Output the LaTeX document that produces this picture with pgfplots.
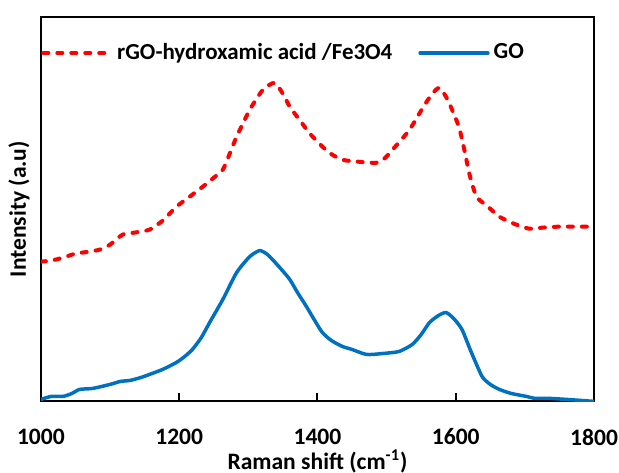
\documentclass[border=0pt]{standalone}
\usepackage{fontspec}
\setmainfont{Carlito}
\usepackage{pgfplots}
\pgfplotsset{compat=1.18}

\definecolor{gored}{HTML}{FF0000}
\definecolor{goblue}{HTML}{0070C0}

\begin{document}
\begin{tikzpicture}
\begin{axis}[
  scale only axis,
  width=277pt, height=192.5pt,
  xmin=1000, xmax=1800,
  ymin=0, ymax=385,
  xtick={1000,1200,...,1800},
  ytick=\empty,
  tick align=inside,
  xtick pos=bottom,
  major tick length=4pt,
  axis line style={line width=1pt},
  every tick/.style={black, line width=1pt},
  /pgf/number format/assume math mode=true,
  /pgf/number format/1000 sep={},
  ticklabel style={font=\fontsize{11.8}{14}\selectfont\bfseries},
  xticklabel style={inner sep=0pt, yshift=-13.5pt},
  xlabel={Raman shift (cm\textsuperscript{-1})},
  ylabel={Intensity (a.u)},
  label style={font=\fontsize{11.8}{14}\selectfont\bfseries, inner sep=0pt},
  xlabel style={at={(axis description cs:0.5,0)}, anchor=north, yshift=-24pt},
  ylabel style={at={(axis description cs:-0.02,0.5)}, anchor=south},
  legend columns=2,
  legend style={at={(axis description cs:0,1)}, anchor=north west,
    draw=none, fill=none, yshift=-11pt, inner sep=0pt,
    font=\fontsize{11.5}{14}\selectfont\bfseries,
    /tikz/every odd column/.append style={column sep=0pt},
    /tikz/every even column/.append style={column sep=11pt}},
  legend image code/.code={\draw[#1] (0pt,0pt) -- (34pt,0pt);},
]
\addplot[gored, line width=2pt, line cap=round, dash pattern=on 2.5pt off 4.5pt, smooth, tension=0.4] coordinates {
  (1000,140) (1015,141) (1032,144) (1050,148) (1070,150) (1085,152) (1100,157)
  (1118,167) (1135,169) (1157,172) (1176,181) (1196,195) (1215,205) (1234,215)
  (1250,224) (1263,232) (1273,248) (1283,265) (1302,292) (1321,312) (1338,319)
  (1350,308) (1360,295) (1374,282) (1388,269) (1403,258) (1417,249) (1436,242)
  (1460,240) (1485,239) (1498,244) (1511,254) (1533,272) (1554,296) (1566,308)
  (1576,314) (1586,305) (1596,290) (1605,274) (1613,250) (1620,227) (1630,205)
  (1645,196) (1663,185) (1684,178) (1706,173) (1725,174) (1749,175) (1775,175) (1800,175)
};
\addlegendentry{rGO-hydroxamic acid /Fe3O4}
\addplot[goblue, line width=1.75pt, line cap=round, smooth, tension=0.4] coordinates {
  (1000,2) (1015,5) (1032,5) (1045,8) (1056,12) (1075,13) (1100,17) (1115,20)
  (1129,21) (1145,24) (1157,27) (1176,32) (1196,39) (1208,45) (1219,52) (1232,64)
  (1244,79) (1263,102) (1283,129) (1302,145) (1316,151) (1326,148) (1335,142)
  (1348,132) (1360,122) (1372,108) (1384,95) (1396,81) (1407,69) (1420,61)
  (1436,55) (1450,52) (1471,47) (1495,48) (1518,50) (1537,57) (1550,67) (1562,79)
  (1575,86) (1586,89) (1597,83) (1609,72) (1622,50) (1638,25) (1650,17) (1663,12)
  (1680,8) (1702,5) (1715,3) (1735,3) (1760,2) (1780,1) (1800,0)
};
\addlegendentry{GO}
\coordinate (bl) at (rel axis cs:0,0);
\coordinate (tr) at (rel axis cs:1,1);
\end{axis}
\path ([xshift=-20.5pt,yshift=-35.5pt]bl) rectangle ([xshift=12.5pt,yshift=8.5pt]tr);
\end{tikzpicture}
\end{document}
